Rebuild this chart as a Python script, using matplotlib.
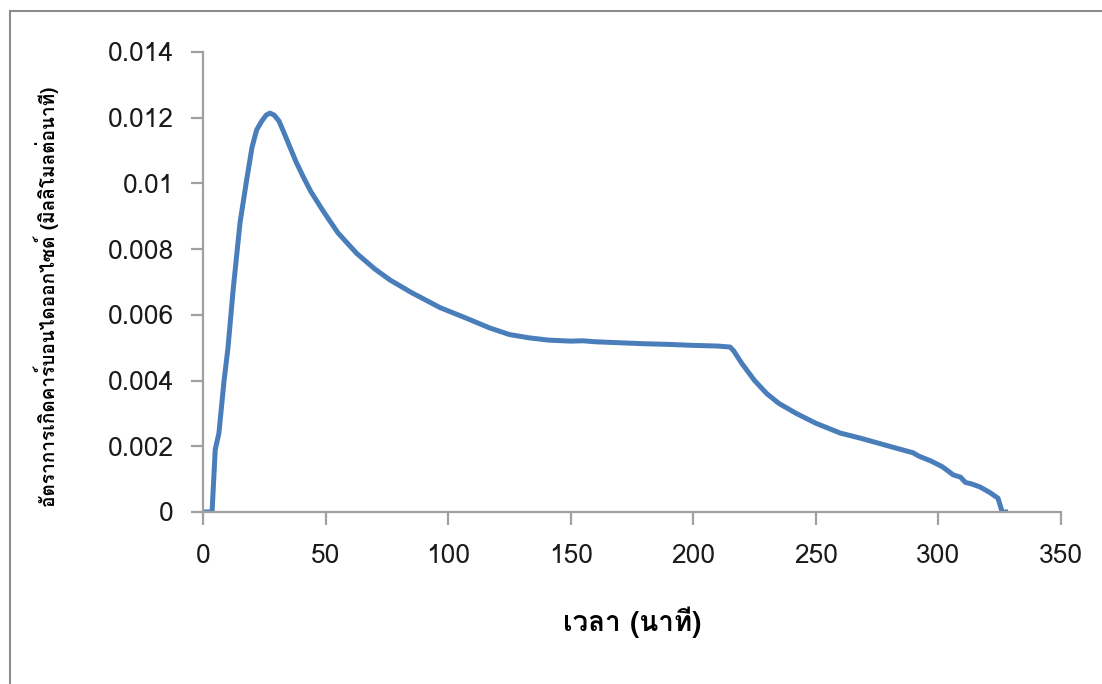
import matplotlib
matplotlib.use("Agg")
import matplotlib.pyplot as plt
from matplotlib import font_manager
from matplotlib.ft2font import FT2Font
from matplotlib.lines import Line2D

# time (minutes) and CO2 evolution rate (mmol/min)
time_min = [0, 3.7, 5, 6.5, 8.6, 10.2, 12.3, 15.1, 17.8, 20, 21.9, 24, 25.8, 27.3,
            29, 31, 33, 35.5, 38, 40.9, 44, 49.1, 55, 62.7, 70, 76.3, 85, 96.7,
            108, 117, 125, 133, 141, 150, 155, 160, 170, 180, 190, 200, 210,
            215, 216.5, 220, 225, 230, 235, 242, 250, 260, 268, 280, 289.7, 292,
            297, 301.5, 303, 306, 309, 311, 313.7, 317, 321, 324.3, 326, 328.4]
co2_rate = [0, 0, 0.0019, 0.0024, 0.0040, 0.0050, 0.00676, 0.0088, 0.0101, 0.0111,
            0.01163, 0.0119, 0.01208, 0.01214, 0.01208, 0.0119, 0.01155, 0.0111,
            0.01065, 0.0102, 0.00975, 0.00915, 0.0085, 0.00787, 0.0074, 0.00706,
            0.00668, 0.00622, 0.00588, 0.0056, 0.0054, 0.0053, 0.00523, 0.0052,
            0.00521, 0.00518, 0.00515, 0.00512, 0.0051, 0.00507, 0.00505,
            0.00502, 0.0049, 0.0045, 0.0040, 0.0036, 0.0033, 0.0030, 0.0027,
            0.0024, 0.00225, 0.0020, 0.0018, 0.0017, 0.00155, 0.00138, 0.0013,
            0.00113, 0.00106, 0.0009, 0.00085, 0.00076, 0.00059, 0.00042, 0.0, 0.0]

x_ticks = [0, 50, 100, 150, 200, 250, 300, 350]
y_ticks = [0, 0.002, 0.004, 0.006, 0.008, 0.01, 0.012, 0.014]
y_tick_labels = ["0", "0.002", "0.004", "0.006", "0.008", "0.01", "0.012", "0.014"]

x_label = "เวลา (นาที)"
y_label = "อัตราการเกิดคาร์บอนไดออกไซด์ (มิลลิโมลต่อนาที)"


def thai_family():
    seen = set()
    for f in font_manager.fontManager.ttflist:
        if f.name in seen:
            continue
        seen.add(f.name)
        try:
            cmap = FT2Font(f.fname).get_charmap()
        except Exception:
            continue
        if 0x0E2D in cmap and 0x0E35 in cmap:
            return f.name
    return None


thai = thai_family()
label_fam = [thai, "DejaVu Sans"] if thai else ["DejaVu Sans"]

fig = plt.figure(figsize=(11.02, 6.84), dpi=100)
ax = fig.add_axes([0.1842, 0.2515, 0.7786, 0.6725])

ax.plot(time_min, co2_rate, color="#4a7ebb", lw=3.6, solid_capstyle="butt",
        solid_joinstyle="round")

ax.set_xlim(0, 350)
ax.set_ylim(0, 0.014)
ax.set_xticks(x_ticks)
ax.set_yticks(y_ticks)
ax.set_yticklabels(y_tick_labels)

for s in ["top", "right"]:
    ax.spines[s].set_visible(False)
for s in ["left", "bottom"]:
    ax.spines[s].set_color("#a0a0a0")
    ax.spines[s].set_linewidth(1.6)
ax.tick_params(direction="out", length=9, width=1.6, color="#a0a0a0",
               labelsize=19, labelcolor="#1a1a1a")
ax.tick_params(axis="x", pad=14)
ax.tick_params(axis="y", pad=12)
for lbl in ax.get_xticklabels() + ax.get_yticklabels():
    lbl.set_fontfamily(label_fam)

ax.set_xlabel(x_label, fontsize=20, fontweight="bold", family=label_fam, labelpad=28)
fig.text(0.042, 0.566, y_label, rotation=90, fontsize=13.7, fontweight="bold",
         family=label_fam, ha="center", va="center")

# outer frame of the chart area (cut off at right and bottom)
fig.add_artist(Line2D([9.5 / 1102, 1], [1 - 10.5 / 684] * 2, transform=fig.transFigure,
                      color="#8c8c8c", lw=1.5))
fig.add_artist(Line2D([9.5 / 1102] * 2, [0, 1 - 10.5 / 684], transform=fig.transFigure,
                      color="#8c8c8c", lw=1.5))

fig.savefig("out.png", dpi=100)
